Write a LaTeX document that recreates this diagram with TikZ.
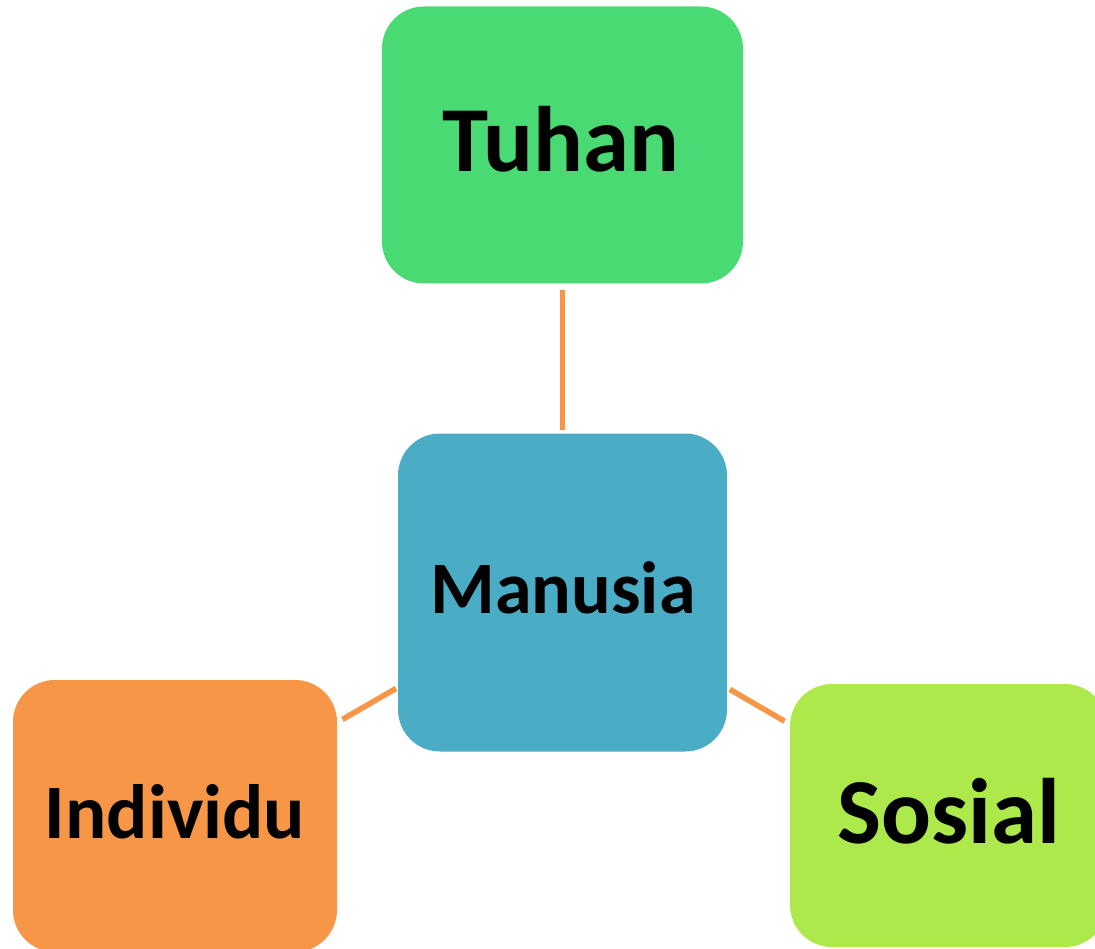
\documentclass[tikz,border=0pt]{standalone}
\usepackage{fontspec}
\setmainfont{Carlito}
\definecolor{cTuhan}{HTML}{4ADA74}
\definecolor{cManusia}{HTML}{4BACC6}
\definecolor{cIndiv}{HTML}{F79646}
\definecolor{cSosial}{HTML}{ADE94A}
\definecolor{cLine}{HTML}{F79646}
\tikzset{
  box/.style={rectangle, rounded corners=42pt, inner sep=0pt, draw=none},
  lbl/.style={inner sep=0pt, font=\bfseries, text=black},
  link/.style={draw=cLine, line width=5.5pt}
}
\begin{document}
\begin{tikzpicture}[x=1pt,y=-1pt]
\useasboundingbox (0,0) rectangle (1095,949);
\node[box, fill=cTuhan, minimum width=361pt, minimum height=277pt] (tuhan) at (562.5,145) {};
\node[box, fill=cManusia, minimum width=329pt, minimum height=318pt] (manusia) at (562.5,592.5) {};
\node[box, fill=cIndiv, minimum width=324pt, minimum height=272pt] (indiv) at (175,816) {};
\node[box, fill=cSosial, minimum width=317pt, minimum height=263pt] (sosial) at (948.5,815.5) {};
\node[lbl, anchor=base, font=\fontsize{93}{93}\selectfont\bfseries] (tuhanT) at (560.5,172) {Tuhan};
\node[lbl, anchor=base, font=\fontsize{74}{74}\selectfont\bfseries] (manusiaT) at (563,613) {Manusia};
\node[lbl, anchor=base, font=\fontsize{77}{77}\selectfont\bfseries] (indivT) at (175,838) {Individu};
\node[lbl, anchor=base, font=\fontsize{93}{93}\selectfont\bfseries] (sosialT) at (948.5,843) {Sosial};
\draw[link, shorten <=6pt, shorten >=3pt] (tuhan) -- (manusia);
\draw[link, shorten <=6pt, shorten >=2pt] (indiv) -- (manusia);
\draw[link, shorten <=3pt, shorten >=6pt] (manusia) -- (sosial);
\end{tikzpicture}
\end{document}
